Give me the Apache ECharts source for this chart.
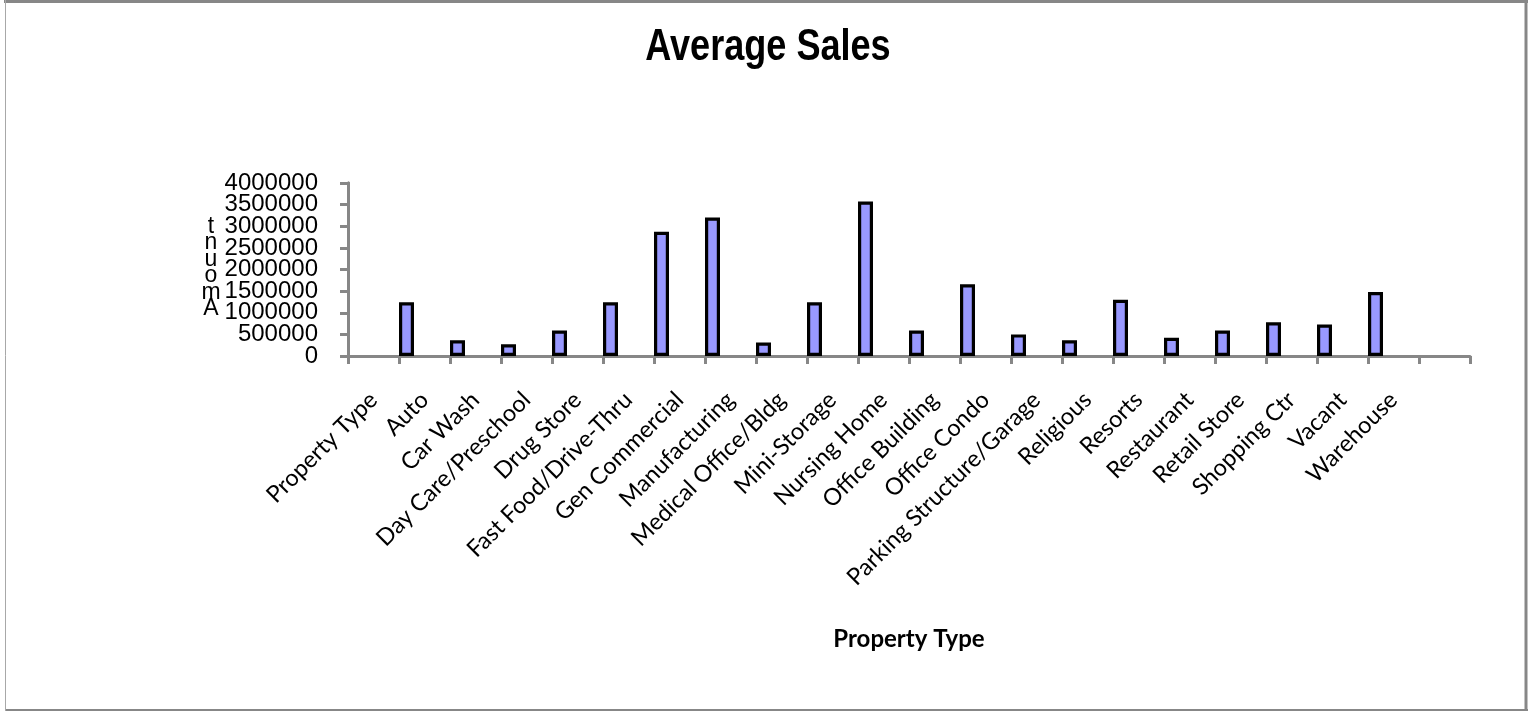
<!DOCTYPE html>
<html>
<head>
<meta charset="utf-8">
<script src="https://cdn.jsdelivr.net/npm/echarts@6/dist/echarts.min.js"></script>
<style>
  html, body { margin: 0; padding: 0; background: #fff; }
  #chart { width: 1532px; height: 712px; }
</style>
</head>
<body>
<div id="chart"></div>
<script>
const titleText = 'Average Sales';
const xAxisTitle = 'Property Type';
const yAxisTitle = 'Amount';
const categories = ['Property Type', 'Auto', 'Car Wash', 'Day Care/Preschool', 'Drug Store',
  'Fast Food/Drive-Thru', 'Gen Commercial', 'Manufacturing', 'Medical Office/Bldg', 'Mini-Storage',
  'Nursing Home', 'Office Building', 'Office Condo', 'Parking Structure/Garage', 'Religious',
  'Resorts', 'Restaurant', 'Retail Store', 'Shopping Ctr', 'Vacant', 'Warehouse', ''];
const averageSales = [null, 1240000, 365000, 270000, 590000,
  1240000, 2870000, 3200000, 310000, 1240000,
  3570000, 590000, 1660000, 500000, 365000,
  1300000, 420000, 590000, 780000, 730000, 1480000, null];
const yMin = 0, yMax = 4000000, yStep = 500000;

const axisGray = '#878787';
const chart = echarts.init(document.getElementById('chart'), null, { renderer: 'canvas' });

// stacked vertical letters of the y-axis title (drawn bottom to top)
const yTitleLetters = yAxisTitle.split('').map((ch, i) => ({
  type: 'text', x: 211, y: 309 - i * 16.5,
  style: { text: ch, font: '23px "Liberation Sans", Arial, sans-serif', fill: '#000',
    align: 'center', verticalAlign: 'middle' }
}));

const yLabelFont = { fontFamily: '"Liberation Sans", Arial, sans-serif', fontSize: 24, color: '#000' };
// two overlaid value axes share the scale: one labels whole millions, the other the half steps,
// so that the crowded labels are not dropped by overlap handling
const yAxisCommon = {
  type: 'value', min: yMin, max: yMax, position: 'left',
  axisLine: { show: true, lineStyle: { color: axisGray, width: 3 } },
  axisTick: { show: true, length: 8, lineStyle: { color: axisGray, width: 3 } },
  splitLine: { show: false }
};

chart.setOption({
  animation: false,
  backgroundColor: '#fff',
  graphic: [
    { type: 'line', shape: { x1: 4, y1: 1.5, x2: 1528, y2: 1.5 }, style: { stroke: axisGray, lineWidth: 3 } },
    { type: 'line', shape: { x1: 1526, y1: 0, x2: 1526, y2: 711 }, style: { stroke: axisGray, lineWidth: 3 } },
    { type: 'line', shape: { x1: 5, y1: 710, x2: 1528, y2: 710 }, style: { stroke: axisGray, lineWidth: 2 } },
    { type: 'line', shape: { x1: 5.5, y1: 0, x2: 5.5, y2: 711 }, style: { stroke: '#a8a8a8', lineWidth: 1 } },
    {
      type: 'text', x: 768, y: 48, scaleX: 0.82,
      style: { text: titleText, font: 'bold 44px "Liberation Sans", Arial, sans-serif', fill: '#000',
        align: 'center', verticalAlign: 'middle' }
    },
    ...yTitleLetters
  ],
  grid: { left: 348, top: 183, width: 1122, height: 173 },
  xAxis: {
    type: 'category',
    data: categories,
    boundaryGap: true,
    name: xAxisTitle,
    nameLocation: 'middle',
    nameGap: 271,
    nameTextStyle: { fontFamily: 'Lato, sans-serif', fontWeight: 'bold', fontSize: 24, color: '#000' },
    axisLine: { show: true, lineStyle: { color: axisGray, width: 3 } },
    axisTick: { show: true, length: 8, lineStyle: { color: axisGray, width: 3 } },
    axisLabel: {
      interval: 0, rotate: 45, margin: 40, hideOverlap: false,
      fontFamily: 'Lato, sans-serif', fontSize: 23.5, color: '#000'
    },
    splitLine: { show: false }
  },
  yAxis: [
    Object.assign({}, yAxisCommon, {
      interval: yStep * 2,
      axisLabel: Object.assign({ margin: 30, formatter: v => String(v) }, yLabelFont)
    }),
    Object.assign({}, yAxisCommon, {
      interval: yStep,
      axisLabel: Object.assign({
        margin: 30,
        formatter: v => (v % (yStep * 2) === 0 ? '' : String(v))
      }, yLabelFont)
    })
  ],
  series: [
    {
      name: 'Average Sales', type: 'bar', data: averageSales, yAxisIndex: 0,
      barWidth: 15, barGap: '140%',
      itemStyle: { color: '#9999ff', borderColor: '#000', borderWidth: 3.2 }
    },
    {
      name: 'spacer', type: 'bar', data: [], yAxisIndex: 0, barWidth: 15, silent: true
    }
  ]
});
</script>
</body>
</html>
